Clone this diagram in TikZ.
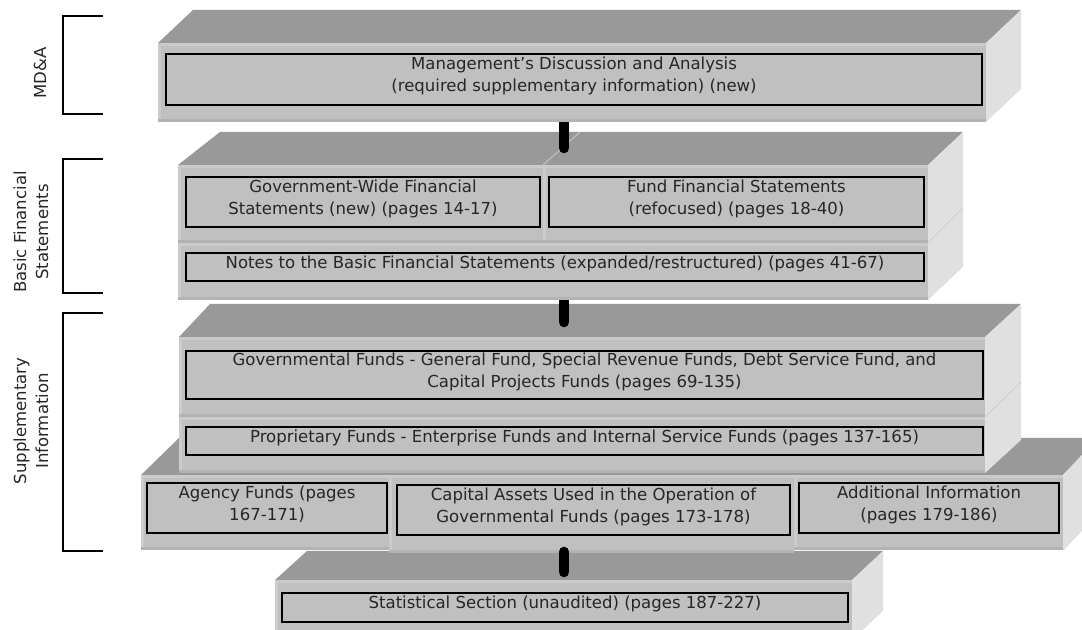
\documentclass[tikz,border=0pt]{standalone}
\usepackage{fontspec}
\setmainfont{DejaVu Sans}
\usetikzlibrary{fit,positioning}
\definecolor{topgray}{HTML}{999999}
\definecolor{frontgray}{HTML}{C0C0C0}
\definecolor{sidegray}{HTML}{E0E0E0}
\definecolor{lightedge}{HTML}{CBCBCB}
\definecolor{darkedge}{HTML}{B3B3B3}

% top and side face of one slab: x1 y1 x2 y2, back-left x, back-right x, back y
\newcommand{\slab}[7]{%
  \fill[topgray] (#1,#2) -- (#5,#7) -- (#6,#7) -- (#3,#2) -- cycle;
  \fill[sidegray] (#3,#2) -- (#6,#7) -- (#6,{#7+#4-#2}) -- (#3,#4) -- cycle;
}
% one part of a front face
\newcommand{\facepart}[4]{%
  \fill[frontgray] (#1,#2) rectangle (#3,#4);
  \fill[lightedge] (#1,#2) rectangle (#3,{#2+3});
  \fill[lightedge] (#1,#2) rectangle ({#1+3},#4);
  \fill[darkedge] (#1,{#4-3}) rectangle (#3,#4);
}

\begin{document}
\begin{tikzpicture}[x=0.75pt, y=-0.75pt,
  every node/.style={font=\fontsize{12.4}{16.5}\selectfont, inner sep=0pt},
  innerbox/.style={draw=black, line width=1.5pt, fill=frontgray},
  boxtext/.style={align=center, text=black!85},
  sidelabel/.style={rotate=90, align=center, text=black!85},
  bracket/.style={line width=1.5pt},
  splitline/.style={draw=lightedge, line width=0.6pt},
  link/.style={line width=8pt, line cap=round}]
\clip (0,0) rectangle (1082,630);

% statistical section
\slab{275}{580}{852}{640}{307}{883}{551}
\facepart{275}{580}{852}{640}

% agency / capital assets / additional information
\slab{141}{475}{1063}{551}{179}{1098}{438}
\facepart{141}{475}{389}{550}
\facepart{389}{475}{794}{553}
\facepart{794}{475}{1063}{550}
\coordinate (link3a) at (564,552);
\coordinate (link3b) at (564,572);
\draw[link] (link3a) -- (link3b);

% governmental and proprietary funds
\slab{179}{337}{985}{473}{210}{1021}{304}
\facepart{179}{337}{985}{417}
\facepart{179}{417}{985}{473}
\draw[splitline] (985,417) -- (1021,382);
\coordinate (link2a) at (564,300);
\coordinate (link2b) at (564,322);
\draw[link] (link2a) -- (link2b);

% basic financial statements
\slab{178}{165}{928}{300}{220}{963}{132}
\facepart{178}{165}{543}{243}
\facepart{543}{165}{928}{243}
\facepart{178}{243}{928}{300}
\draw[splitline] (543,165) -- (580,132);
\draw[splitline] (928,243) -- (963,208);
\coordinate (link1a) at (564,122);
\coordinate (link1b) at (564,148);
\draw[link] (link1a) -- (link1b);

% MD&A
\slab{158}{43}{986}{122}{193}{1021}{10}
\facepart{158}{43}{986}{122}

% boxes with their texts
\node[innerbox, fit={(166,54) (982,105)}] (mdabox) {};
\node[boxtext] (mda) at ([yshift=2.5pt]mdabox.center) {Management’s Discussion and Analysis\\(required supplementary information) (new)};
\node[innerbox, fit={(186,177) (540,227)}] (gwfsbox) {};
\node[boxtext] (gwfs) at ([yshift=2.5pt]gwfsbox.center) {Government-Wide Financial\\Statements (new) (pages 14-17)};
\node[innerbox, fit={(549,177) (924,227)}] (ffsbox) {};
\node[boxtext] (ffs) at ([yshift=2.5pt]ffsbox.center) {Fund Financial Statements\\(refocused) (pages 18-40)};
\node[innerbox, fit={(186,253) (924,281)}] (notesbox) {};
\node[boxtext] (notes) at ([yshift=2.5pt]notesbox.center) {Notes to the Basic Financial Statements (expanded/restructured) (pages 41-67)};
\node[innerbox, fit={(186,351) (983,399)}] (govbox) {};
\node[boxtext] (gov) at ([yshift=2.5pt]govbox.center) {Governmental Funds - General Fund, Special Revenue Funds, Debt Service Fund, and\\Capital Projects Funds (pages 69-135)};
\node[innerbox, fit={(186,427) (983,455)}] (propbox) {};
\node[boxtext] (prop) at ([yshift=2.5pt]propbox.center) {Proprietary Funds - Enterprise Funds and Internal Service Funds (pages 137-165)};
\node[innerbox, fit={(147,483) (387,533)}] (agencybox) {};
\node[boxtext] (agency) at ([yshift=2.5pt]agencybox.center) {Agency Funds (pages\\167-171)};
\node[innerbox, fit={(397,485) (790,535)}] (capbox) {};
\node[boxtext] (cap) at ([yshift=2.5pt]capbox.center) {Capital Assets Used in the Operation of\\Governmental Funds (pages 173-178)};
\node[innerbox, fit={(799,483) (1059,533)}] (addbox) {};
\node[boxtext] (add) at ([yshift=2.5pt]addbox.center) {Additional Information\\(pages 179-186)};
\node[innerbox, fit={(282,593) (848,622)}] (statbox) {};
\node[boxtext] (stat) at ([yshift=2.5pt]statbox.center) {Statistical Section (unaudited) (pages 187-227)};

% brackets and their labels
\draw[bracket] (103,16) -- (63,16) -- (63,114) -- (103,114);
\draw[bracket] (103,159) -- (63,159) -- (63,293) -- (103,293);
\draw[bracket] (103,313) -- (63,313) -- (63,551) -- (103,551);
\node[sidelabel] (mdalabel) at (40,73) {MD\&A};
\node[sidelabel] (bfslabel) at (31,232) {Basic Financial\\Statements};
\node[sidelabel] (suplabel) at (31,421) {Supplementary\\Information};
\end{tikzpicture}
\end{document}
